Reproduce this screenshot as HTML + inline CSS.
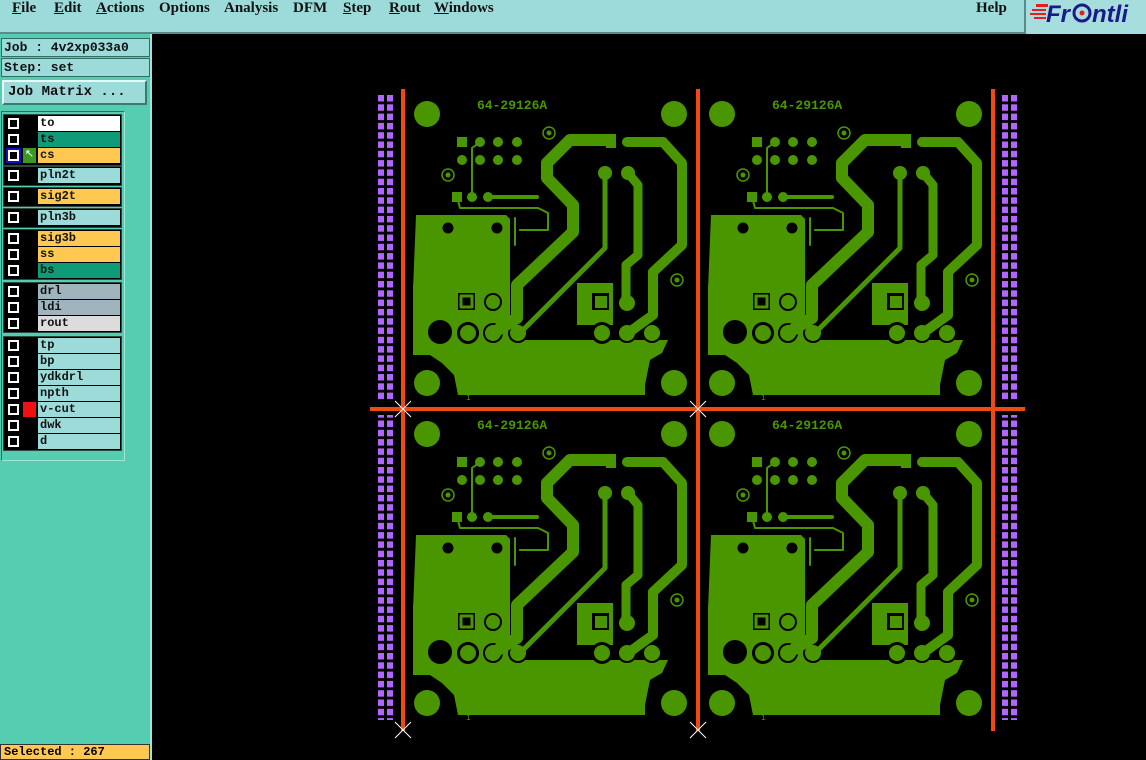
<!DOCTYPE html>
<html><head><meta charset="utf-8">
<style>
*{margin:0;padding:0;box-sizing:border-box}
body{width:1146px;height:760px;overflow:hidden;background:#000;position:relative;font-family:"Liberation Mono",monospace}
.abs{position:absolute}
#menu{left:0;top:0;width:1146px;height:34px;background:#9ddbdb;border-bottom:2px solid #5a8a8a}
#menu span{position:absolute;top:0;font:bold 15px "Liberation Serif",serif;color:#111}
#logo{left:1024px;top:0;width:122px;height:34px;background:#a6dede;border-left:2px solid #5a8a8a}
#left{left:0;top:34px;width:152px;height:726px;background:#55cdb0;border-right:2px solid #9fe6d8}
.box{position:absolute;left:1px;width:149px;height:19px;background:#9ddbdb;border:1px solid #2d6f60;font:bold 13px "Liberation Mono",monospace;color:#111;padding-left:2px;line-height:17px}
.row{position:absolute;left:4px;width:118px;height:16px}
.cb{position:absolute;left:4px;top:2px;width:11px;height:11px;border:2px solid #fff;background:#000}
.nm{position:absolute;left:34px;top:0;width:82px;height:15px;font:bold 12px "Liberation Mono",monospace;line-height:14px;padding-left:2px;color:#111}
.grp{position:absolute;left:3px;width:119px;background:#000;border:1px solid #2a4a40}
</style></head><body>
<div id="menu" class="abs">
<span style="left:12px"><u>F</u>ile</span>
<span style="left:54px"><u>E</u>dit</span>
<span style="left:96px"><u>A</u>ctions</span>
<span style="left:159px">Options</span>
<span style="left:224px">Analysis</span>
<span style="left:293px">DFM</span>
<span style="left:343px"><u>S</u>tep</span>
<span style="left:389px"><u>R</u>out</span>
<span style="left:434px"><u>W</u>indows</span>
<span style="left:976px">Help</span>
</div>
<div id="logo" class="abs">
<svg width="122" height="34">
<g fill="#e02020"><rect x="10" y="4" width="12" height="3"/><rect x="6" y="9" width="14" height="2"/><rect x="4" y="13" width="16" height="2"/><rect x="8" y="17" width="12" height="2"/></g>
<text x="20" y="22" font-family="Liberation Sans" font-weight="bold" font-style="italic" font-size="24" fill="#1a1a8a">Fr</text>
<circle cx="56" cy="13" r="8" fill="none" stroke="#1a1a8a" stroke-width="3"/><circle cx="56" cy="13" r="2.5" fill="#e02020"/>
<text x="66" y="22" font-family="Liberation Sans" font-weight="bold" font-style="italic" font-size="24" fill="#1a1a8a">ntli</text>
</svg></div>
<div id="left" class="abs">
<div class="box" style="top:4px">Job : 4v2xp033a0</div>
<div class="box" style="top:24px">Step: set</div>
<div class="box" style="top:46px;height:25px;left:2px;width:145px;border:2px solid #e8fafa;border-right-color:#3a7a70;border-bottom-color:#3a7a70;line-height:20px;padding-left:4px;font-size:14px">Job Matrix ...</div>
<div class="abs" style="left:1px;top:77px;width:124px;height:350px;border:1px solid #2d6f60;border-right-color:#9fe6d8;border-bottom-color:#9fe6d8"></div>
</div>
<div class="grp" style="top:114px;height:52px"></div>
<div class="grp" style="top:166px;height:20px"></div>
<div class="grp" style="top:187px;height:20px"></div>
<div class="grp" style="top:208px;height:20px"></div>
<div class="grp" style="top:229px;height:51px"></div>
<div class="grp" style="top:282px;height:51px"></div>
<div class="grp" style="top:336px;height:115px"></div>
<div id="rows"></div>
<div class="abs" style="left:0;top:744px;width:150px;height:16px;background:#ffc850;border:1px solid #333;font:bold 12px 'Liberation Mono',monospace;line-height:15px;padding-left:3px">Selected : 267</div>

<svg class="abs" style="left:0;top:0" width="1146" height="760">
<defs>
<pattern id="pp" x="378" y="95" width="9" height="9.3" patternUnits="userSpaceOnUse"><rect width="6" height="6.5" fill="#b066ff"/></pattern>
<g id="tile">
 <g fill="#4a9600">
  <circle cx="57" cy="29" r="13"/><circle cx="304" cy="29" r="13"/>
  <circle cx="57" cy="298" r="13"/><circle cx="304" cy="298" r="13"/>
  <path d="M46 130 H136 L140 134 V200 L136 205 H43 Z"/>
  <path d="M43 200 H140 V255 H43 Z"/>
  <path d="M43 255 H298 L292 268 L280 275 L275 300 V310 H88 L84 290 L72 278 L60 270 H43 Z"/>
  <path d="M207 198 H243 V240 H207 Z"/>
 </g>
 <g fill="#000">
  <circle cx="70" cy="247" r="12"/>
  <rect x="88" y="208" width="17" height="17"/>
  <circle cx="123" cy="217" r="9"/>
  <rect x="222" y="208" width="17" height="17"/>
  <circle cx="98" cy="248" r="11"/><circle cx="123" cy="248" r="10"/><circle cx="148" cy="248" r="10"/>
  <circle cx="232" cy="248" r="11"/><circle cx="257" cy="248" r="10"/><circle cx="282" cy="248" r="10"/>
  <circle cx="78" cy="143" r="6"/><circle cx="127" cy="143" r="6"/>
 </g>
 <g fill="none" stroke="#4a9600" stroke-linejoin="round" stroke-linecap="round">
  <path d="M240 55 H200 L177 78 V93 L203 120 V147 L147 200 V233 L123 248" stroke-width="12"/>
  <path d="M235 88 V163 L148 250" stroke-width="5"/>
  <path d="M258 88 L268 100 V170 L256 180 V218" stroke-width="9"/>
  <path d="M257 57 H293 L312 78 V160 L283 187 V230 L258 248" stroke-width="10"/>
  <path d="M102 112 V63 L110 57" stroke-width="2"/>
  <path d="M118 112 H167" stroke-width="4"/>
  <path d="M87 112 L90 123 H168 L178 128 V145 H150" stroke-width="2"/>
  <path d="M145 133 V160 M150 145 H175" stroke-width="2"/>
  <circle cx="78" cy="143" r="7" stroke-width="3"/><circle cx="127" cy="143" r="7" stroke-width="3"/>
  <rect x="91" y="211" width="11" height="11" stroke-width="3"/>
  <circle cx="179" cy="48" r="6" stroke-width="1.5"/><circle cx="78" cy="90" r="6" stroke-width="1.5"/><circle cx="307" cy="195" r="6" stroke-width="1.5"/>
 </g>
 <g fill="#4a9600">
  <circle cx="123" cy="217" r="7"/><rect x="225" y="211" width="12" height="12"/>
  <circle cx="98" cy="248" r="8"/><circle cx="123" cy="248" r="8"/><circle cx="148" cy="248" r="8"/>
  <circle cx="232" cy="248" r="8"/><circle cx="257" cy="248" r="8"/><circle cx="282" cy="248" r="8"/>
  <circle cx="257" cy="218" r="8"/><circle cx="235" cy="88" r="7"/><circle cx="258" cy="88" r="7"/>
  <rect x="87" y="52" width="10" height="10"/><circle cx="110" cy="57" r="5"/><circle cx="128" cy="57" r="5"/><circle cx="147" cy="57" r="5"/>
  <circle cx="92" cy="75" r="5"/><circle cx="110" cy="75" r="5"/><circle cx="128" cy="75" r="5"/><circle cx="147" cy="75" r="5"/>
  <rect x="82" y="107" width="10" height="10"/><circle cx="102" cy="112" r="5"/><circle cx="118" cy="112" r="5"/>
  <rect x="236" y="49" width="10" height="14"/>
  <circle cx="179" cy="48" r="2.5"/><circle cx="78" cy="90" r="2.5"/><circle cx="307" cy="195" r="2.5"/>
 </g>
 <text x="107" y="24" font-family="Liberation Mono" font-weight="bold" font-size="13" fill="#4a9600">64-29126A</text>
 <text x="96" y="315" font-family="Liberation Mono" font-size="8" fill="#4a9600">1</text>
</g>
</defs>
<use href="#tile" x="370" y="85"/>
<use href="#tile" x="665" y="85"/>
<use href="#tile" x="370" y="405"/>
<use href="#tile" x="665" y="405"/>
<rect x="378" y="95" width="15" height="307" fill="url(#pp)"/>
<rect x="378" y="415" width="15" height="305" fill="url(#pp)"/>
<g transform="translate(624 0)">
<rect x="378" y="95" width="15" height="307" fill="url(#pp)"/>
<rect x="378" y="415" width="15" height="305" fill="url(#pp)"/>
</g>
<g fill="#f04a10">
<rect x="401" y="89" width="4" height="642"/>
<rect x="696" y="89" width="4" height="642"/>
<rect x="991" y="89" width="4" height="642"/>
<rect x="370" y="407" width="655" height="4"/>
</g>
<g stroke="#fff" stroke-width="1">
<path d="M395 401 L411 417 M411 401 L395 417"/>
<path d="M690 401 L706 417 M706 401 L690 417"/>
<path d="M395 722 L411 738 M411 722 L395 738"/>
<path d="M690 722 L706 738 M706 722 L690 738"/>
</g>
</svg>
<script>
var L=[["to",116,"#fff"],["ts",132,"#0f9a78"],["cs",148,"#ffc850"],["pln2t",168,"#9ddbdb"],["sig2t",189,"#ffc850"],["pln3b",210,"#9ddbdb"],["sig3b",231,"#ffc850"],["ss",247,"#ffc850"],["bs",263,"#0f9a78"],["drl",284,"#9fb4bc"],["ldi",300,"#9fb4bc"],["rout",316,"#dcdcdc"],["tp",338,"#9ddbdb"],["bp",354,"#9ddbdb"],["ydkdrl",370,"#9ddbdb"],["npth",386,"#9ddbdb"],["v-cut",402,"#9ddbdb"],["dwk",418,"#9ddbdb"],["d",434,"#9ddbdb"]];
var h="";L.forEach(function(r){h+='<div class="row" style="top:'+r[1]+'px"><div class="cb"'+(r[0]=="cs"?' style="outline:2px solid #1010c0"':'')+'></div>'+(r[0]=="cs"?'<div class="abs" style="left:19px;top:0;width:13px;height:15px;background:#3a9a20;color:#fff;font-size:11px;line-height:15px;text-align:center">&#8598;</div>':'')+(r[0]=="v-cut"?'<div class="abs" style="left:19px;top:0;width:13px;height:15px;background:#f01010"></div>':'')+'<div class="nm" style="background:'+r[2]+'">'+r[0]+'</div></div>';});
document.getElementById("rows").innerHTML=h;
</script>
</body></html>
